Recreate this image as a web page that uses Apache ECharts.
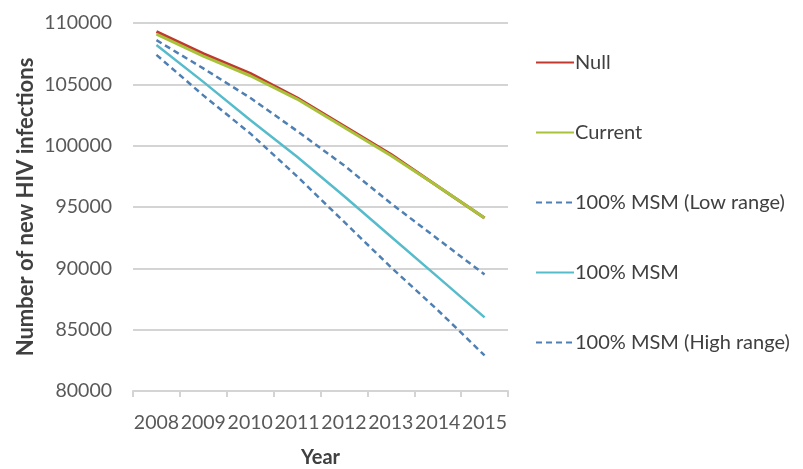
<!DOCTYPE html>
<html>
<head>
<meta charset="utf-8">
<script src="https://cdn.jsdelivr.net/npm/echarts@6/dist/echarts.min.js"></script>
<style>html,body{margin:0;padding:0;background:#fff;}#c{width:803px;height:469px;}</style>
</head>
<body>
<div id="c"></div>
<script>
var years = ['2008','2009','2010','2011','2012','2013','2014','2015'];
var nullVals    = [109300, 107500, 105900, 103900, 101600, 99300, 96700, 94100];
var currentVals = [109100, 107300, 105700, 103800, 101500, 99200, 96700, 94100];
var lowRange    = [108600, 106300, 103900, 101200, 98400, 95300, 92400, 89500];
var msm100      = [108200, 105200, 102100, 99100, 95900, 92600, 89300, 86000];
var highRange   = [107400, 104100, 101000, 97500, 93800, 90100, 86600, 82900];
var seriesNames = ['Null', 'Current', '100% MSM (Low range)', '100% MSM', '100% MSM (High range)'];
var yTicks = { min: 80000, max: 110000, step: 5000 };

var font = 'Lato, "Open Sans", sans-serif';
var chart = echarts.init(document.getElementById('c'), null, {renderer: 'canvas'});
function ln(name, data, color, dashed, w) {
  return {
    name: name, type: 'line', data: data, symbol: 'none', smooth: false,
    lineStyle: { color: color, width: w, type: dashed ? [6, 4] : 'solid' },
    itemStyle: { color: color },
    emphasis: { disabled: true }
  };
}
chart.setOption({
  animation: false,
  backgroundColor: '#ffffff',
  grid: { left: 133, right: 295, top: 23, bottom: 78, containLabel: false, outerBoundsMode: 'none' },
  legend: {
    orient: 'vertical', left: 530, top: 46,
    itemWidth: 38, itemHeight: 14, itemGap: 47,
    itemStyle: { opacity: 0 },
    textStyle: { fontFamily: font, fontSize: 20, color: '#404040', lineHeight: 23, padding: [0,0,0,-4] },
    data: seriesNames
  },
  xAxis: {
    type: 'category', data: years, boundaryGap: true,
    name: 'Year', nameLocation: 'middle', nameGap: 57,
    nameTextStyle: { fontFamily: font, fontSize: 20, fontWeight: 'bold', color: '#404040' },
    axisLine: { show: true, lineStyle: { color: '#d4d4d4', width: 2 } },
    axisTick: { show: true, length: 6, lineStyle: { color: '#d4d4d4', width: 2 } },
    axisLabel: { interval: 0, fontFamily: font, fontSize: 19.5, color: '#595959', margin: 22 }
  },
  yAxis: {
    type: 'value', min: yTicks.min, max: yTicks.max, interval: yTicks.step,
    name: 'Number of new HIV infections', nameLocation: 'middle', nameGap: 96,
    nameTextStyle: { fontFamily: font, fontSize: 22, fontWeight: 'bold', color: '#404040' },
    axisLine: { show: false }, axisTick: { show: false },
    axisLabel: { fontFamily: font, fontSize: 19.5, color: '#595959', margin: 21, formatter: function (v) { return String(v); } },
    splitLine: { lineStyle: { color: '#d4d4d4', width: 2 } }
  },
  series: [
    ln(seriesNames[0], nullVals, '#c0392e', false, 3),
    ln(seriesNames[1], currentVals, '#a8c23c', false, 3),
    ln(seriesNames[2], lowRange, '#4f80b3', true, 2.5),
    ln(seriesNames[3], msm100, '#56bccb', false, 2.5),
    ln(seriesNames[4], highRange, '#4f80b3', true, 2.5)
  ]
});
</script>
</body>
</html>
